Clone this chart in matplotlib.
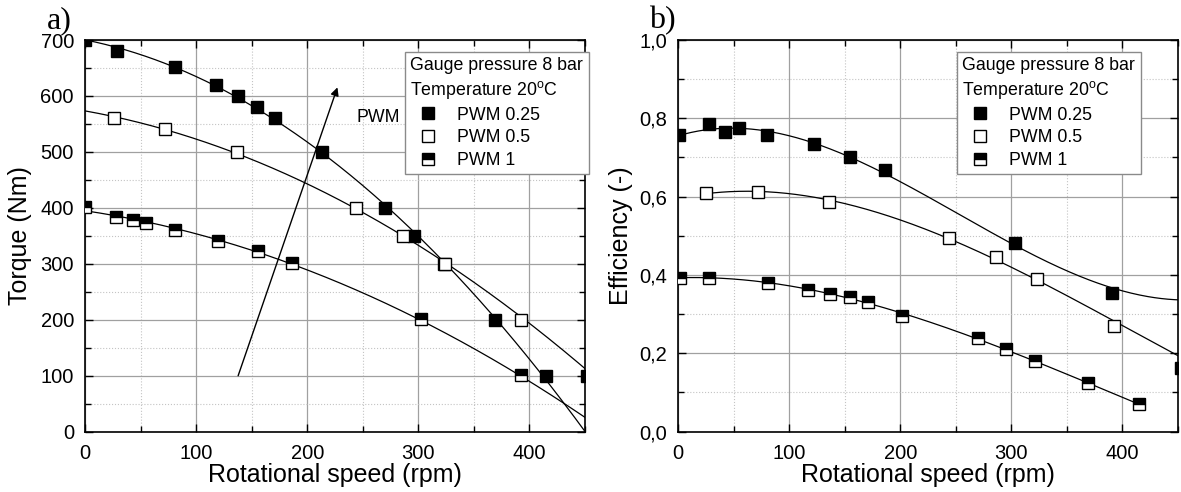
import numpy as np
import matplotlib.pyplot as plt
from matplotlib.ticker import MultipleLocator, FuncFormatter
from matplotlib.lines import Line2D

plt.rcParams['font.family'] = ['Liberation Sans', 'DejaVu Sans']
plt.rcParams['mathtext.fontset'] = 'custom'
plt.rcParams['mathtext.rm'] = 'Liberation Sans'

# a) torque vs rotational speed
tq_x_025 = [0, 29, 81, 118, 138, 155, 171, 213, 270, 296, 323, 369, 415, 452]
tq_y_025 = [700, 681, 651, 620, 600, 581, 561, 500, 400, 350, 300, 200, 100, 100]
tq_x_05 = [26, 72, 137, 244, 286, 324, 392]
tq_y_05 = [561, 540, 500, 400, 350, 300, 200]
tq_x_1 = [0, 28, 43, 55, 81, 120, 156, 186, 302, 392]
tq_y_1 = [402, 383, 378, 372, 361, 340, 322, 301, 201, 101]
# where the fitted curves leave the frame at 450 rpm
tq_curve_end = [0, 113, 25]

# b) efficiency vs rotational speed
ef_x_025 = [1, 28, 42, 55, 80, 122, 155, 186, 303, 391, 453]
ef_y_025 = [0.757, 0.785, 0.764, 0.775, 0.757, 0.734, 0.702, 0.668, 0.481, 0.353, 0.162]
ef_x_05 = [25, 72, 136, 244, 286, 323, 392]
ef_y_05 = [0.609, 0.613, 0.586, 0.494, 0.445, 0.390, 0.270]
ef_x_1 = [2, 28, 81, 117, 137, 155, 171, 202, 270, 295, 321, 369, 415]
ef_y_1 = [0.393, 0.393, 0.379, 0.362, 0.351, 0.343, 0.332, 0.295, 0.238, 0.210, 0.179, 0.123, 0.070]
ef_curve_end = [0.338, 0.195, None]

labels = ['PWM 0.25', 'PWM 0.5', 'PWM 1']
legend_title = 'Gauge pressure 8 bar\nTemperature 20$^{\\rm o}$C'
XMAX = 450
FS_LEG = 12.8

styles = [dict(marker='s', mfc='k', mec='k'),
          dict(marker='s', mfc='w', mec='k'),
          dict(marker='s', mfc='k', mec='k', fillstyle='top', markerfacecoloralt='w')]


def fit_curve(x, y, deg, lo, hi, end=None, w_end=3.0):
    x = np.asarray(x, float)
    y = np.asarray(y, float)
    m = x <= XMAX
    x, y = x[m], y[m]
    w = np.ones_like(x)
    if end is not None:
        x = np.append(x, XMAX)
        y = np.append(y, end)
        w = np.append(w, w_end)
    c = np.polyfit(x, y, deg, w=w)
    xs = np.linspace(lo, hi, 300)
    return xs, np.polyval(c, xs)


def style_axes(ax, ymax, ymaj, ymin, fmt):
    ax.set_xlim(0, XMAX)
    ax.set_ylim(0, ymax)
    ax.xaxis.set_major_locator(MultipleLocator(100))
    ax.xaxis.set_minor_locator(MultipleLocator(50))
    ax.yaxis.set_major_locator(MultipleLocator(ymaj))
    ax.yaxis.set_minor_locator(MultipleLocator(ymin))
    ax.yaxis.set_major_formatter(FuncFormatter(fmt))
    ax.grid(which='major', color='#a0a0a0', lw=0.9)
    ax.grid(which='minor', color='#c4c4c4', ls=':', lw=0.8)
    ax.set_axisbelow(True)
    ax.tick_params(which='both', direction='in', top=True, right=True,
                   labelsize=14.5, width=1)
    ax.tick_params(which='major', length=6)
    ax.tick_params(which='minor', length=4)
    ax.tick_params(axis='x', pad=9)
    ax.tick_params(axis='y', pad=8)
    for s in ax.spines.values():
        s.set_linewidth(1.2)
    ax.set_xlabel('Rotational speed (rpm)', fontsize=18, labelpad=0)


def add_legend(ax, x0):
    handles = [Line2D([], [], ls='none', ms=8, mew=1, **st) for st in styles]
    leg = ax.legend(handles, labels, title=legend_title, loc='upper left',
                    bbox_to_anchor=(x0, 0.970), borderaxespad=0,
                    fontsize=FS_LEG, title_fontsize=FS_LEG, alignment='left',
                    frameon=True, fancybox=False, framealpha=1,
                    edgecolor='#8a8a8a', borderpad=0.3, handlelength=2.0,
                    handletextpad=0.62, labelspacing=0.32)
    leg.get_frame().set_linewidth(1.0)
    leg.get_title().set_linespacing(1.3)


fig = plt.figure(figsize=(11.81, 4.92), dpi=100)
ax1 = fig.add_axes([85 / 1181, 60.5 / 492, 500 / 1181, 391.5 / 492])
ax2 = fig.add_axes([678 / 1181, 60.5 / 492, 500 / 1181, 391.5 / 492])

# panel a
tq_series = [(tq_x_025, tq_y_025), (tq_x_05, tq_y_05), (tq_x_1, tq_y_1)]
for (x, y), st, end in zip(tq_series, styles, tq_curve_end):
    xs, ys = fit_curve(x, y, 2, 0, XMAX, end)
    ax1.plot(xs, ys, color='k', lw=0.9)
    ax1.plot(x, y, ls='none', ms=8, mew=1, zorder=3, **st)

style_axes(ax1, 700, 100, 50, lambda v, p: f'{v:.0f}')
ax1.set_ylabel('Torque (Nm)', fontsize=18)
ax1.yaxis.set_label_coords(-0.106, 0.5)
ax1.annotate('', xy=(228, 620), xytext=(137, 95),
             arrowprops=dict(arrowstyle='-|>', color='k', lw=1.0,
                             mutation_scale=12))
ax1.text(244, 562, 'PWM', fontsize=FS_LEG, va='center', ha='left')
add_legend(ax1, 0.640)

# panel b
ef_series = [(ef_x_025, ef_y_025), (ef_x_05, ef_y_05), (ef_x_1, ef_y_1)]
ef_ranges = [(0, XMAX), (25, XMAX), (0, 416)]
for (x, y), st, (lo, hi), end in zip(ef_series, styles, ef_ranges, ef_curve_end):
    xs, ys = fit_curve(x, y, 3, lo, hi, end, w_end=2.0)
    ax2.plot(xs, ys, color='k', lw=0.9)
    ax2.plot(x, y, ls='none', ms=8, mew=1, zorder=3, **st)

style_axes(ax2, 1.0, 0.2, 0.1, lambda v, p: f'{v:.1f}'.replace('.', ','))
ax2.set_ylabel('Efficiency (-)', fontsize=18)
ax2.yaxis.set_label_coords(-0.090, 0.5)
add_legend(ax2, 0.558)

fig.text(47 / 1181, 1 - 28 / 492, 'a)', family='Liberation Serif',
         fontsize=23, va='baseline')
fig.text(649 / 1181, 1 - 28 / 492, 'b)', family='Liberation Serif',
         fontsize=23, va='baseline')

fig.savefig('out.png', dpi=100)
